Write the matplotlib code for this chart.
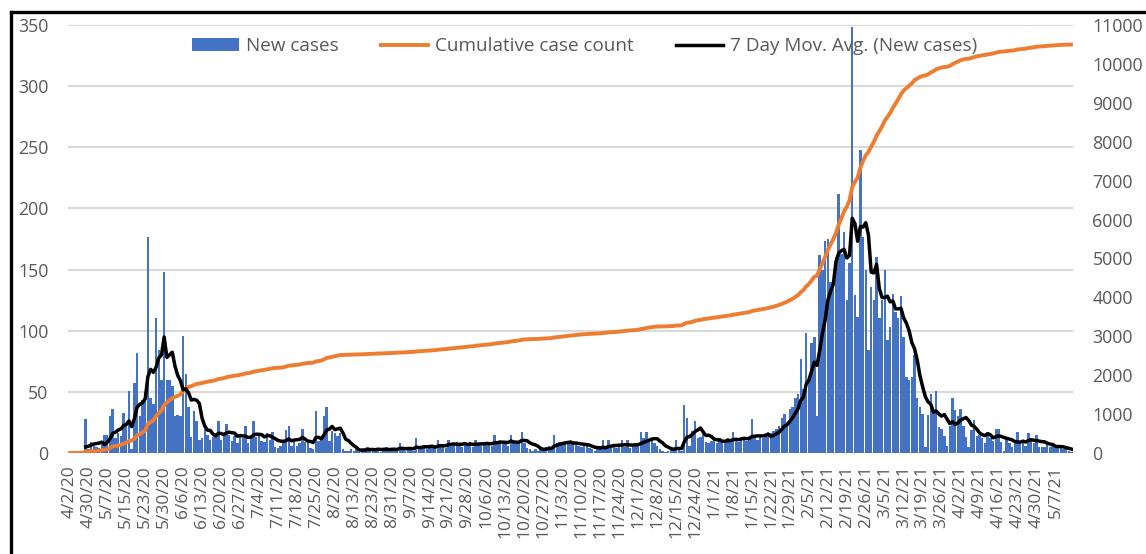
import numpy as np
import pandas as pd
import matplotlib
matplotlib.use("Agg")
from matplotlib import pyplot as plt
from matplotlib.lines import Line2D
from matplotlib.patches import Patch

# daily new cases, one row per reported day (7 per line)
new_cases = [
    0, 1, 1, 2, 1, 2, 28,
    3, 9, 6, 5, 4, 7, 15,
    15, 30, 36, 12, 16, 14, 33,
    22, 51, 3, 57, 82, 30, 43,
    45, 177, 45, 40, 110, 84, 60,
    148, 60, 60, 55, 30, 31, 30,
    96, 65, 38, 13, 34, 26, 11,
    12, 20, 15, 11, 13, 16, 26,
    11, 14, 24, 15, 10, 14, 8,
    15, 12, 22, 8, 12, 26, 13,
    14, 10, 9, 16, 11, 17, 5,
    4, 6, 8, 19, 22, 6, 9,
    6, 8, 20, 9, 10, 4, 3,
    34, 10, 12, 30, 38, 10, 18,
    16, 14, 16, 3, 2, 2, 3,
    2, 4, 1, 3, 2, 5, 3,
    2, 3, 4, 1, 3, 5, 2,
    3, 4, 2, 8, 3, 2, 4,
    3, 2, 12, 5, 4, 6, 3,
    5, 4, 6, 11, 7, 5, 4,
    11, 6, 8, 9, 7, 5, 8,
    6, 9, 5, 11, 7, 6, 8,
    9, 7, 6, 15, 8, 10, 7,
    8, 6, 15, 9, 7, 10, 17,
    8, 4, 3, 2, 3, 2, 4,
    3, 5, 6, 4, 15, 8, 9,
    7, 9, 8, 7, 9, 8, 6,
    5, 7, 6, 4, 3, 2, 4,
    3, 11, 3, 11, 5, 6, 4,
    5, 11, 5, 11, 4, 5, 6,
    6, 17, 12, 17, 10, 12, 8,
    6, 3, 2, 1, 2, 4, 3,
    11, 3, 2, 39, 29, 6, 18,
    26, 12, 13, 16, 9, 8, 10,
    12, 8, 12, 9, 8, 12, 10,
    17, 11, 9, 13, 12, 10, 12,
    28, 12, 11, 13, 12, 14, 17,
    16, 18, 20, 22, 29, 32, 25,
    36, 38, 45, 48, 77, 52, 98,
    60, 90, 95, 30, 162, 150, 173,
    175, 140, 135, 160, 212, 163, 181,
    125, 155, 348, 129, 111, 248, 177,
    150, 84, 136, 125, 160, 110, 125,
    150, 92, 103, 130, 115, 110, 128,
    95, 62, 60, 62, 80, 45, 38,
    32, 5, 31, 48, 35, 51, 21,
    20, 14, 6, 22, 45, 35, 30,
    36, 22, 13, 5, 19, 27, 14,
    15, 12, 8, 16, 12, 10, 20,
    20, 9, 2, 11, 8, 5, 11,
    17, 8, 8, 6, 16, 10, 8,
    15, 5, 5, 5, 8, 5, 6,
    4, 4, 5, 3, 3, 2, 1,
]

# every 7th row gets a date label
tick_labels = [
    '4/2/20', '4/30/20', '5/7/20', '5/15/20', '5/23/20', '5/30/20', '6/6/20',
    '6/13/20', '6/20/20', '6/27/20', '7/4/20', '7/11/20', '7/18/20', '7/25/20',
    '8/2/20', '8/13/20', '8/23/20', '8/31/20', '9/7/20', '9/14/20', '9/21/20',
    '9/28/20', '10/6/20', '10/13/20', '10/20/20', '10/27/20', '11/3/20',
    '11/10/20', '11/17/20', '11/24/20', '12/1/20', '12/8/20', '12/15/20',
    '12/24/20', '1/1/21', '1/8/21', '1/15/21', '1/22/21', '1/29/21', '2/5/21',
    '2/12/21', '2/19/21', '2/26/21', '3/5/21', '3/12/21', '3/19/21', '3/26/21',
    '4/2/21', '4/9/21', '4/16/21', '4/23/21', '4/30/21', '5/7/21',
]

series_names = ['New cases', 'Cumulative case count', '7 Day Mov. Avg. (New cases)']

x = np.arange(len(new_cases))
cumulative = np.cumsum(new_cases)
mov_avg = pd.Series(new_cases).rolling(7).mean()

grey = '#595959'
plt.rcParams['font.family'] = ['Open Sans', 'DejaVu Sans']

W, H = 1146, 554
fig = plt.figure(figsize=(W / 100, H / 100), dpi=100)
ax = fig.add_axes([68 / W, (H - 453) / H, 1005 / W, 428 / H])

ax.bar(x, new_cases, width=0.9, color='#4472C4', linewidth=0, zorder=2)
ax.set_xlim(-0.5, len(new_cases) - 0.5)
ax.set_ylim(0, 350)
ax.set_yticks(range(0, 351, 50))
ax.grid(axis='y', color='#D9D9D9', linewidth=1.5, zorder=0)
ax.set_axisbelow(True)
for s in ax.spines.values():
    s.set_visible(False)
ax.set_xticks(x[::7])
ax.set_xticklabels(tick_labels, rotation=90)
ax.tick_params(axis='x', length=0, pad=9, labelsize=12.5, colors=grey)
ax.tick_params(axis='y', length=0, pad=14, labelsize=12.8, colors=grey)

# cumulative count on the right axis
ax2 = ax.twinx()
ax2.plot(x, cumulative, color='#ED7D31', linewidth=2.8, solid_capstyle='round')
ax2.set_ylim(0, 11000)
ax2.set_yticks(range(0, 11001, 1000))
ax2.tick_params(axis='y', length=0, pad=14, labelsize=12.8, colors=grey)
for s in ax2.spines.values():
    s.set_visible(False)

# moving average uses left scale but is drawn on top of the orange line
ax2.plot(x, mov_avg, color='black', linewidth=2.5, transform=ax.transData)

handles = [
    Patch(facecolor='#4472C4', edgecolor='none'),
    Line2D([], [], color='#ED7D31', linewidth=2.8),
    Line2D([], [], color='black', linewidth=2.5),
]
leg = ax2.legend(handles, series_names, loc='center', bbox_to_anchor=(0.514, 0.95),
                 ncol=3, frameon=False, fontsize=13.6, handlelength=2.5,
                 handletextpad=0.4, columnspacing=2.2)
for t in leg.get_texts():
    t.set_color(grey)

# black border of the chart box (cut off at right and bottom)
fig.add_artist(Line2D([11 / W, 11 / W], [0, (H - 12) / H], color='black', linewidth=2.4))
fig.add_artist(Line2D([11 / W, 1], [(H - 12) / H, (H - 12) / H], color='black', linewidth=2.4))

fig.savefig('out.png', dpi=100)
